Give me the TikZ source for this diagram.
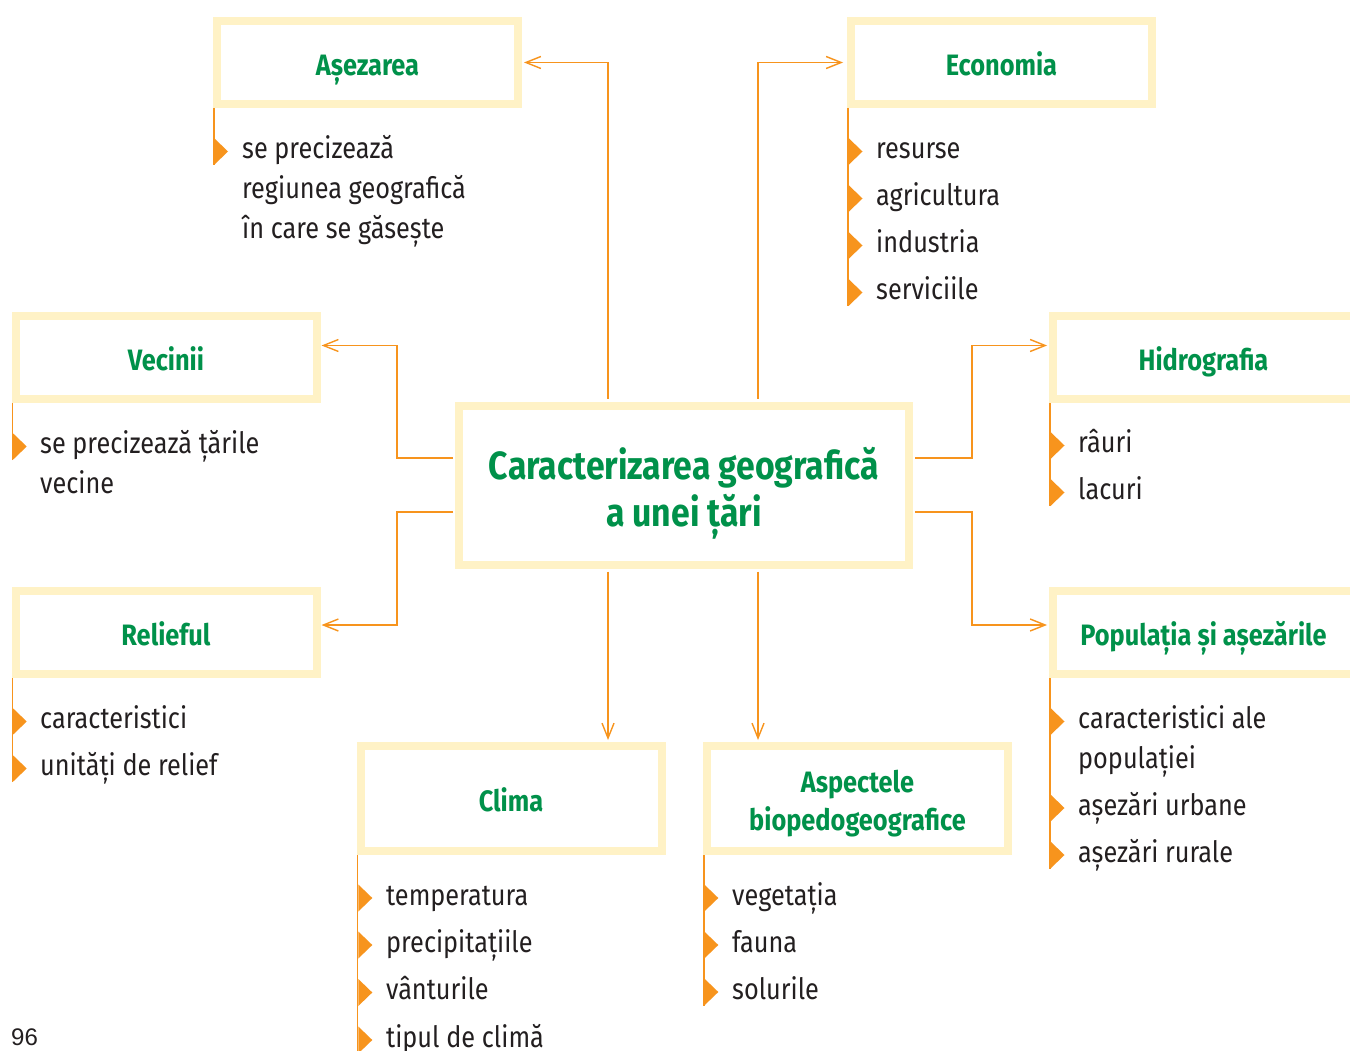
\documentclass[tikz,border=0pt]{standalone}
\usepackage{fontspec}
\setmainfont{Fira Sans}[FakeStretch=0.86]
\newfontfamily\pagefont{Liberation Sans}
\usetikzlibrary{positioning, arrows.meta, calc}

\definecolor{titlegreen}{HTML}{00914A}
\definecolor{linkorange}{HTML}{F7941D}
\definecolor{boxyellow}{HTML}{FFF2C6}
\definecolor{bodytext}{HTML}{231F20}

% orange bullet on a stem
\newcommand{\bullettri}[2]{\fill[linkorange] (#1,#2-13.5) -- (#1+14,#2) -- (#1,#2+13.5) -- cycle;}

\begin{document}
\begin{tikzpicture}[
  x=1pt, y=-1pt,
  >={Straight Barb[length=15pt, width=12pt]},
  box/.style={draw=boxyellow, line width=8pt, fill=white,
    minimum width=301pt, minimum height=83pt, inner sep=0pt,
    text height=26pt, text depth=0pt,
    font=\fontsize{29.5}{38}\selectfont\bfseries, text=titlegreen, align=center},
  bigbox/.style={box, minimum width=450pt, minimum height=159pt,
    text height=83pt, font=\fontsize{39.3}{47.4}\selectfont\bfseries},
  lowbox/.style={box, minimum height=105pt},
  item/.style={anchor=base west, inner sep=0pt, align=left,
    font=\fontsize{29.4}{40}\selectfont, text=bodytext},
  link/.style={->, linkorange, line width=1.4pt},
  stem/.style={linkorange, line width=1.6pt},
]
\useasboundingbox (0,0) rectangle (1350,1051);
\clip (0,0) rectangle (1350,1051);

% === boxes ===
\node[bigbox] (center) at (684,485) {Caracterizarea geografică\\a unei țări};
\node[box] (asez) at (367.5,62.5) {Așezarea};
\node[box] (econ) at (1001.5,62.5) {Economia};
\node[box] (vec) at (166,357.5) {Vecinii};
\node[box] (hidro) at (1203.5,357.5) {Hidrografia};
\node[box] (relief) at (166,632.5) {Relieful};
\node[box] (pop) at (1203.5,632.5) {Populația și așezările};
\node[lowbox] (clima) at (511,798.5) {Clima};
\node[lowbox, text height=63pt] (bio) at (857.5,798.5) {Aspectele\\biopedogeografice};

% === connectors ===
\coordinate (tl) at ($(center.north)+(-76,-3)$);
\coordinate (tr) at ($(center.north)+(74,-3)$);
\coordinate (lu) at ($(center.west)+(-2,-27)$);
\coordinate (ld) at ($(center.west)+(-2,27)$);
\coordinate (ru) at ($(center.east)+(2,-27)$);
\coordinate (rd) at ($(center.east)+(2,27)$);
\coordinate (bl) at ($(center.south)+(-76,3)$);
\coordinate (br) at ($(center.south)+(74,3)$);

\draw[link, shorten >=2pt] (tl) |- (asez.east);
\draw[link, shorten >=4pt] (tr) |- (econ.west);
\draw[link, shorten >=1pt] (lu) -- ++(-56,0) |- ([yshift=12pt]vec.east);
\draw[link, shorten >=1pt] (ld) -- ++(-56,0) |- ([yshift=7.5pt]relief.east);
\draw[link, shorten >=2pt] (ru) -- ++(57,0) |- ([yshift=12pt]hidro.west);
\draw[link, shorten >=2pt] (rd) -- ++(57,0) |- ([yshift=7.5pt]pop.west);
\draw[link, shorten >=2pt] (bl) -- (bl |- clima.north);
\draw[link, shorten >=2pt] (br) -- (br |- bio.north);

% === Asezarea list ===
\draw[stem] ($(asez.south west)+(1,0)$) -- ++(0,57);
\bullettri{214}{151.5}
\node[item] (asez1) at (242,238.5) {se precizează\\regiunea geografică\\în care se găsește};

% === Economia list ===
\draw[stem] ($(econ.south west)+(1,0)$) -- ++(0,198);
\foreach \y in {151.5, 198.5, 245.5, 292.5} {\bullettri{848.5}{\y}}
\node[item] (econ1) at (876,158.5) {resurse};
\node[item] (econ2) at (876,205.5) {agricultura};
\node[item] (econ3) at (876,252.5) {industria};
\node[item] (econ4) at (876,299.5) {serviciile};

% === Vecinii list ===
\draw[stem] ($(vec.south west)+(1,0)$) -- ++(0,57);
\bullettri{12.7}{446.5}
\node[item] (vec1) at (40,493.5) {se precizează țările\\vecine};

% === Relieful list ===
\draw[stem] ($(relief.south west)+(1,0)$) -- ++(0,104);
\foreach \y in {721.5, 768.5} {\bullettri{12.7}{\y}}
\node[item] (relief1) at (40,728.5) {caracteristici};
\node[item] (relief2) at (40,775.5) {unități de relief};

% === Hidrografia list ===
\draw[stem] ($(hidro.south west)+(1,0)$) -- ++(0,103);
\foreach \y in {445.5, 492.5} {\bullettri{1050.5}{\y}}
\node[item] (hidro1) at (1078,452.5) {râuri};
\node[item] (hidro2) at (1078,499.5) {lacuri};

% === Populatia list ===
\draw[stem] ($(pop.south west)+(1,0)$) -- ++(0,191);
\foreach \y in {721.5, 808, 855} {\bullettri{1050.5}{\y}}
\node[item] (pop1) at (1078,768.5) {caracteristici ale\\populației};
\node[item] (pop2) at (1078,815) {așezări urbane};
\node[item] (pop3) at (1078,862) {așezări rurale};

% === Clima list ===
\draw[stem] ($(clima.south west)+(1,0)$) -- ++(0,200);
\foreach \y in {898, 945, 992.5, 1040} {\bullettri{358.3}{\y}}
\node[item] (clima1) at (386,905) {temperatura};
\node[item] (clima2) at (386,952) {precipitațiile};
\node[item] (clima3) at (386,999.5) {vânturile};
\node[item] (clima4) at (386,1047) {tipul de climă};

% === Biopedo list ===
\draw[stem] ($(bio.south west)+(1,0)$) -- ++(0,151);
\foreach \y in {898, 945, 992} {\bullettri{704.3}{\y}}
\node[item] (bio1) at (732,905) {vegetația};
\node[item] (bio2) at (732,952) {fauna};
\node[item] (bio3) at (732,999) {solurile};

% page number
\node[anchor=base west, inner sep=0pt, font=\pagefont\fontsize{24}{28}\selectfont,
  text=bodytext] (pagenum) at (11,1045) {96};

\end{tikzpicture}
\end{document}
